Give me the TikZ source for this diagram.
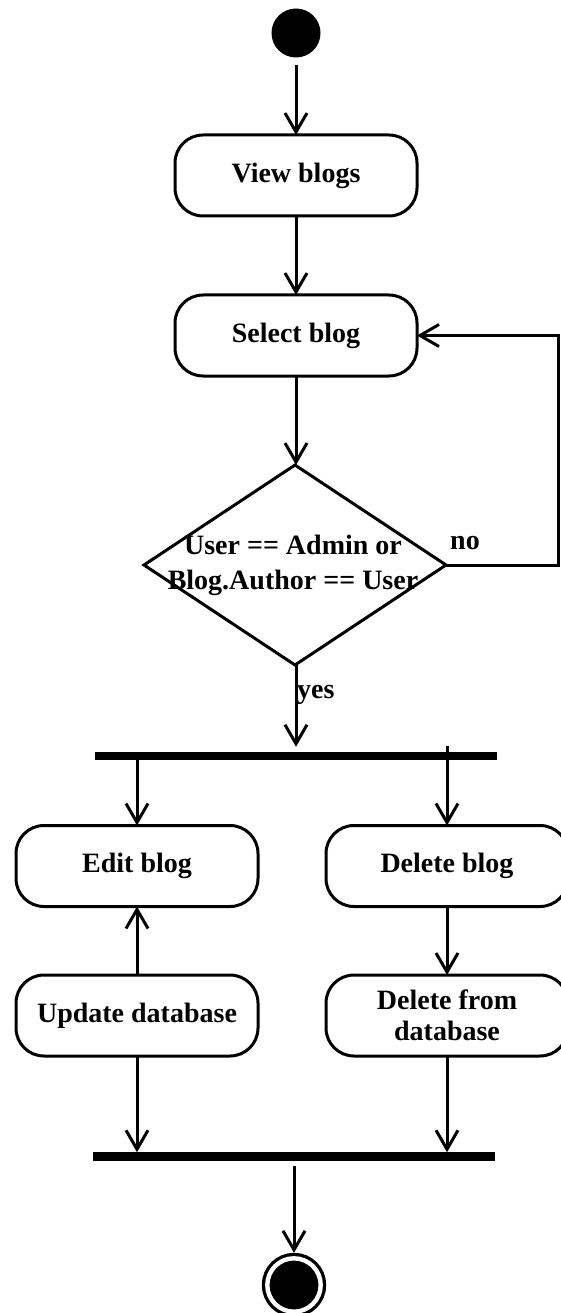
\documentclass[tikz,border=0pt]{standalone}
\usepackage{fontspec}
\setmainfont{Liberation Serif}
\usetikzlibrary{arrows.meta,shapes.geometric}
\begin{document}
\begin{tikzpicture}[x=1pt,y=-1pt,
  txt/.style={font=\bfseries\fontsize{28}{31}\selectfont},
  act/.style={txt,draw,line width=3pt,rounded corners=28pt,minimum width=242pt,
    minimum height=81pt,align=center,inner sep=0pt,outer sep=0pt},
  decision/.style={draw,diamond,line width=3pt,minimum width=302pt,minimum height=200pt,
    inner sep=0pt,outer sep=0pt},
  bar/.style={fill=black,inner sep=0pt,outer sep=0pt,minimum width=402pt,minimum height=8.5pt},
  flow/.style={line width=3pt,-{Straight Barb[length=19pt,width=22pt]}},
  guard/.style={txt,inner sep=0pt},
]
\useasboundingbox (0,0) rectangle (560,1313);

% initial and final states
\node[circle,fill=black,minimum size=49pt,inner sep=0pt] (start) at (296,33) {};
\node[circle,draw,fill=black,line width=3.3pt,double=white,double distance=4.4pt,
  minimum size=53.4pt,inner sep=0pt,outer sep=5.5pt] (stop) at (294,1285) {};

% actions
\node[act] (view) at (296,175.5) {View blogs};
\node[act] (select) at (296,335.5) {Select blog};
\node[decision] (dec) at (295,565) {};
\node[txt,align=center,font=\bfseries\fontsize{28}{35}\selectfont] (dectext) at (293,565.5)
  {User == Admin or\\Blog.Author == User};

% fork and join bars
\node[bar] (fork) at (296,756) {};
\node[bar] (join) at (294,1156.5) {};

\node[act] (edit) at (137,866) {Edit blog};
\node[act] (del) at (447,866) {Delete blog};
\node[act] (update) at (137,1015.5) {Update database};
\node[act] (deldb) at (447,1015.5) {Delete from\\database};

% control flow
\draw[flow,shorten <=7pt] (start) -- (view);
\draw[flow] (view) -- (select);
\draw[flow] (select) -- (dec.north -| select.south);
\draw[flow,shorten >=5pt] (dec.south -| select.south) -- (fork.north -| select.south);
\node[guard,anchor=west] (yes) at (297,695) {yes};

\coordinate (loop) at (558,335.5);
\draw[flow] (dec.east) -| (loop) -- (select.east);
\node[guard,anchor=west] (no) at (450,543) {no};

\draw[flow] (fork.south -| edit.north) -- (edit.north);
\draw[flow] (fork.north -| del.north) ++(0,-6) -- (del.north);
\draw[flow] (update) -- (edit);
\draw[flow] (del) -- (deldb);
\draw[flow] (update.south) -- (join.north -| update.south);
\draw[flow] (deldb.south) -- (join.north -| deldb.south);
\draw[flow,shorten <=5pt] (join.south -| stop.north) -- (stop);
\end{tikzpicture}
\end{document}
